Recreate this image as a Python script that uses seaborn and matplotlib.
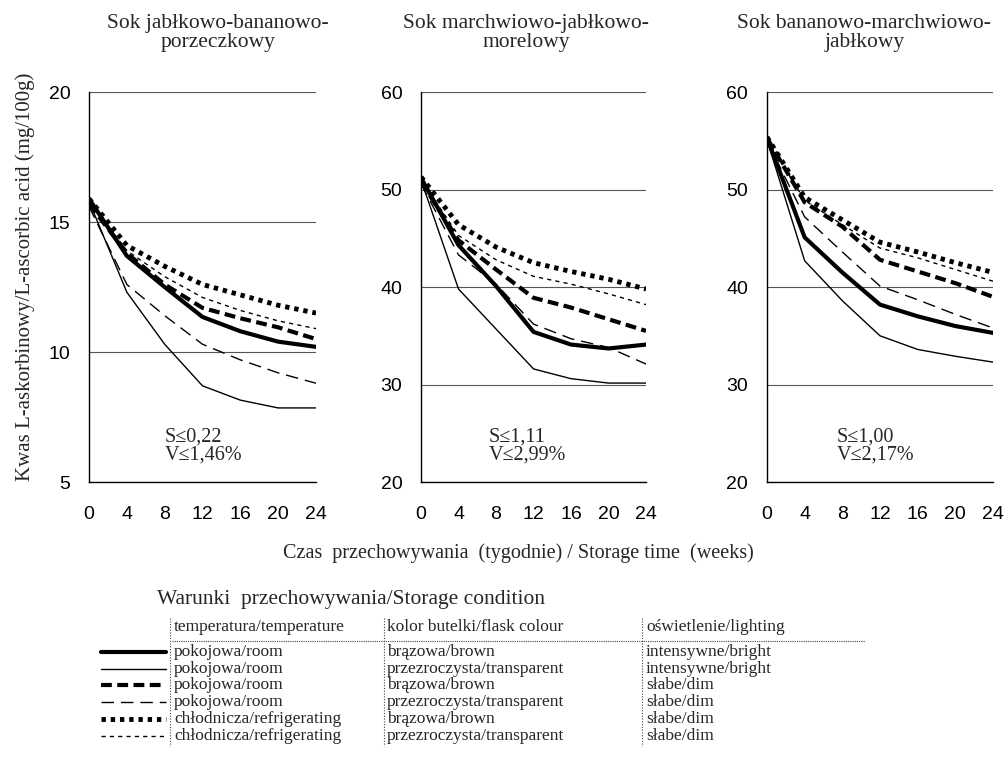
import numpy as np
import pandas as pd
import matplotlib
matplotlib.use('Agg')
import matplotlib.pyplot as plt
from matplotlib.lines import Line2D
import seaborn as sns

# Dane
weeks = [0, 4, 8, 12, 16, 20, 24]
conditions = ['room_brown_bright', 'room_transp_bright', 'room_brown_dim',
              'room_transp_dim', 'fridge_brown_dim', 'fridge_transp_dim']

juice1 = {
    'room_brown_bright':  [15.9, 13.7, 12.5, 11.35, 10.8, 10.4, 10.2],
    'room_transp_bright': [15.8, 12.3, 10.3, 8.7, 8.15, 7.85, 7.85],
    'room_brown_dim':     [15.7, 13.8, 12.6, 11.7, 11.3, 10.95, 10.5],
    'room_transp_dim':    [15.6, 12.6, 11.4, 10.3, 9.7, 9.2, 8.8],
    'fridge_brown_dim':   [15.9, 14.1, 13.3, 12.6, 12.2, 11.8, 11.5],
    'fridge_transp_dim':  [15.8, 13.9, 12.9, 12.1, 11.6, 11.2, 10.9],
}
juice2 = {
    'room_brown_bright':  [51.2, 44.3, 40.1, 35.4, 34.1, 33.7, 34.1],
    'room_transp_bright': [51.0, 39.8, 35.7, 31.6, 30.6, 30.15, 30.15],
    'room_brown_dim':     [50.8, 44.8, 41.8, 38.9, 37.9, 36.7, 35.5],
    'room_transp_dim':    [50.6, 43.3, 40.3, 36.2, 34.7, 33.8, 32.1],
    'fridge_brown_dim':   [51.3, 46.4, 44.1, 42.5, 41.6, 40.8, 39.8],
    'fridge_transp_dim':  [51.0, 45.3, 42.8, 41.1, 40.3, 39.3, 38.2],
}
juice3 = {
    'room_brown_bright':  [55.3, 45.1, 41.5, 38.2, 37.0, 36.0, 35.3],
    'room_transp_bright': [55.1, 42.7, 38.6, 35.0, 33.6, 32.9, 32.3],
    'room_brown_dim':     [55.3, 48.7, 46.2, 42.8, 41.6, 40.4, 39.0],
    'room_transp_dim':    [55.0, 47.2, 43.6, 40.1, 38.7, 37.2, 35.8],
    'fridge_brown_dim':   [55.4, 49.2, 46.9, 44.6, 43.6, 42.5, 41.5],
    'fridge_transp_dim':  [55.2, 48.9, 46.4, 44.0, 43.0, 41.8, 40.6],
}

titles = ['Sok jabłkowo-bananowo-\nporzeczkowy',
          'Sok marchwiowo-jabłkowo-\nmorelowy',
          'Sok bananowo-marchwiowo-\njabłkowy']
stats = ['S≤0,22\nV≤1,46%', 'S≤1,11\nV≤2,99%', 'S≤1,00\nV≤2,17%']
yticks = [[5, 10, 15, 20], [20, 30, 40, 50, 60], [20, 30, 40, 50, 60]]

legend_temp = ['pokojowa/room', 'pokojowa/room', 'pokojowa/room',
               'pokojowa/room', 'chłodnicza/refrigerating', 'chłodnicza/refrigerating']
legend_colour = ['brązowa/brown', 'przezroczysta/transparent', 'brązowa/brown',
                 'przezroczysta/transparent', 'brązowa/brown', 'przezroczysta/transparent']
legend_light = ['intensywne/bright', 'intensywne/bright', 'słabe/dim',
                'słabe/dim', 'słabe/dim', 'słabe/dim']

# styl linii
DASHES = {'room_brown_bright': '', 'room_transp_bright': '',
          'room_brown_dim': (2.6, 1.3), 'room_transp_dim': (9, 5),
          'fridge_brown_dim': (0.9, 1.0), 'fridge_transp_dim': (3, 3)}
SIZES = {'room_brown_bright': 3.0, 'room_transp_bright': 1.0,
         'room_brown_dim': 3.0, 'room_transp_dim': 1.0,
         'fridge_brown_dim': 3.5, 'fridge_transp_dim': 1.0}

sns.set_style('white')
plt.rcParams['font.family'] = ['Liberation Sans', 'DejaVu Sans']
SERIF = ['Liberation Serif', 'DejaVu Serif']


def to_long(d):
    rows = []
    for c in conditions:
        for w, v in zip(weeks, d[c]):
            rows.append({'week': w, 'val': v, 'cond': c})
    return pd.DataFrame(rows)


fig = plt.figure(figsize=(10.06, 7.69), dpi=100)
boxes = [[0.0885, 0.3732, 0.2256, 0.507],
         [0.4185, 0.3732, 0.2237, 0.507],
         [0.7624, 0.3732, 0.2247, 0.507]]
title_x = [0.217, 0.523, 0.859]
stat_x = [0.335, 0.30, 0.31]

for i, d in enumerate([juice1, juice2, juice3]):
    ax = fig.add_axes(boxes[i])
    df = to_long(d)
    sns.lineplot(data=df, x='week', y='val', style='cond', size='cond',
                 dashes=DASHES, sizes=SIZES, color='black', legend=False,
                 ax=ax, zorder=3)
    ax.set_xlim(0, 24)
    ax.set_ylim(yticks[i][0], yticks[i][-1])
    ax.set_xticks(weeks)
    ax.set_yticks(yticks[i])
    ax.yaxis.grid(True, color='#555555', lw=0.8)
    ax.xaxis.grid(False)
    for s in ['top', 'right']:
        ax.spines[s].set_visible(False)
    for s in ['left', 'bottom']:
        ax.spines[s].set_color('black')
        ax.spines[s].set_linewidth(1.0)
    ax.tick_params(axis='both', direction='out', length=9.5, width=1,
                   colors='black', labelsize=14)
    ax.tick_params(axis='y', pad=4)
    ax.tick_params(axis='x', pad=8)
    ax.set_xlabel('')
    ax.set_ylabel('')
    fig.text(title_x[i], 0.957, titles[i], family=SERIF, fontsize=15.5,
             ha='center', va='center', linespacing=1.05)
    ax.text(stat_x[i], 0.045, stats[i], transform=ax.transAxes, family=SERIF,
            fontsize=14.5, linespacing=0.9, va='bottom', ha='left')

fig.text(0.025, 0.64, 'Kwas L-askorbinowy/L-ascorbic acid (mg/100g)',
         rotation=90, family=SERIF, fontsize=15, ha='center', va='center')
fig.text(0.515, 0.281, 'Czas  przechowywania  (tygodnie) / Storage time  (weeks)',
         family=SERIF, fontsize=14.5, ha='center', va='center')

# Legenda w formie tabeli
lax = fig.add_axes([0, 0, 1, 0.25])
lax.set_xlim(0, 1006)
lax.set_ylim(192, 0)
lax.axis('off')
top = 769 - 192
lax.text(157, 600 - top, 'Warunki  przechowywania/Storage condition',
         family=SERIF, fontsize=15.5, va='center', ha='left')
cols_x = [174, 387, 646]
for x, h in zip(cols_x, ['temperatura/temperature', 'kolor butelki/flask colour',
                         'oświetlenie/lighting']):
    lax.text(x, 627 - top, h, family=SERIF, fontsize=12.5, va='center', ha='left')
lax.plot([172, 865], [641 - top, 641 - top], color='#444444', lw=0.8, ls=(0, (1, 1)))
for x in [170, 384, 642]:
    lax.plot([x, x], [618 - top, 746 - top], color='#444444', lw=0.8, ls=(0, (1, 1.5)))
for j, c in enumerate(conditions):
    y = 652 + j * 16.8 - top
    dash = DASHES[c]
    ls = '-' if dash == '' else (0, dash)
    lax.add_line(Line2D([101, 166], [y, y], color='black', lw=SIZES[c], ls=ls))
    lax.text(cols_x[0], y, legend_temp[j], family=SERIF, fontsize=12.5, va='center')
    lax.text(cols_x[1], y, legend_colour[j], family=SERIF, fontsize=12.5, va='center')
    lax.text(cols_x[2], y, legend_light[j], family=SERIF, fontsize=12.5, va='center')

plt.savefig('out.png', dpi=100, facecolor='white')
